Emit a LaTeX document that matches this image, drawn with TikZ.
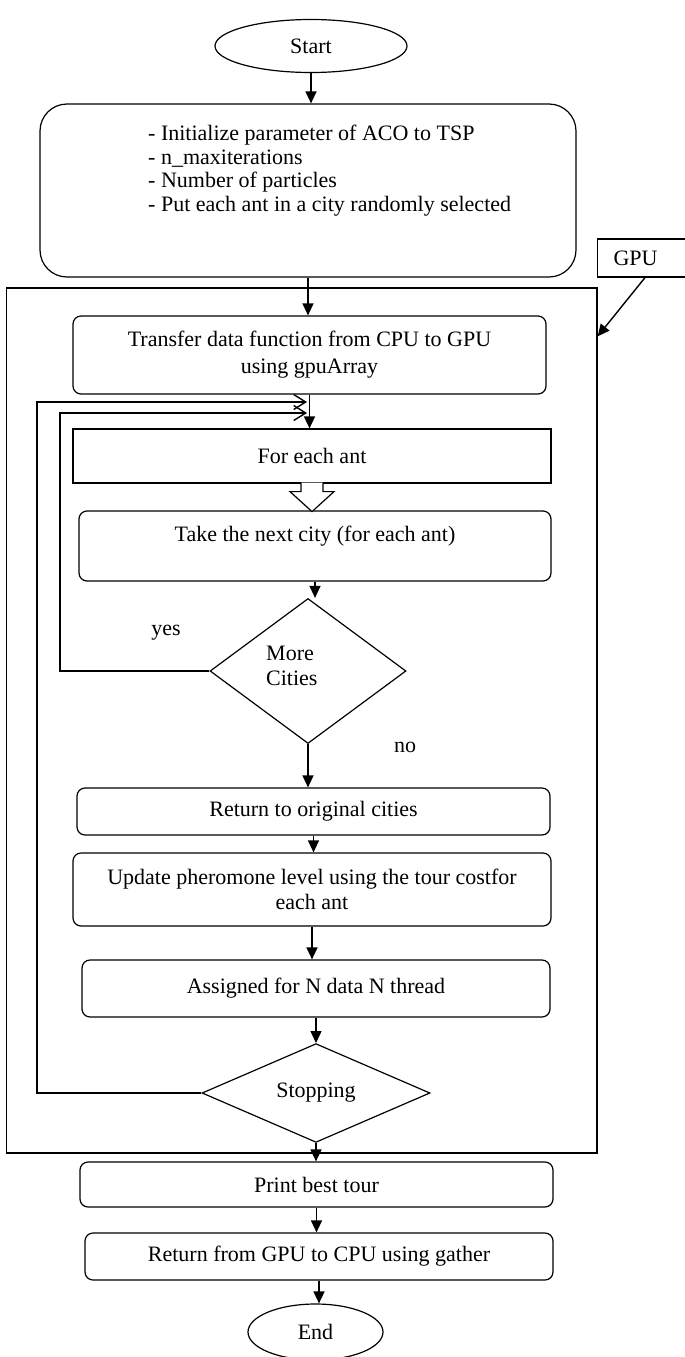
\documentclass[tikz,border=0pt]{standalone}
\usepackage{fontspec}
\setmainfont{Liberation Serif}
\usetikzlibrary{shapes.geometric,arrows.meta}

\tikzset{
  box/.style={draw, line width=1.2pt, rounded corners=8pt, inner sep=0pt, align=center},
  plainbox/.style={draw, line width=1.2pt, inner sep=0pt, align=center},
  terminal/.style={draw, ellipse, line width=1.2pt, inner sep=0pt},
  decision/.style={draw, diamond, line width=1.2pt, inner sep=0pt},
  flow/.style={line width=1.4pt, -{Triangle[length=12pt,width=11pt]}},
  back/.style={line width=1.2pt, -{Straight Barb[length=12pt,width=15pt,line width=1.4pt]}}
}

\begin{document}
\begin{tikzpicture}[x=1pt, y=-1pt, font=\fontsize{22}{25}\selectfont]
\useasboundingbox (0,0) rectangle (685,1357);

%Frame
\node[plainbox, minimum width=590.5pt, minimum height=865pt] (gpuarea) at (301.75,720.5) {};
\node[plainbox, anchor=west, minimum height=38pt, inner xsep=16pt, text width=70pt, align=left] (gpu) at (597,258) {GPU};

%Terminals
\node[terminal, minimum width=192pt, minimum height=53pt] (start) at (311,46) {Start};
\node[terminal, minimum width=135pt, minimum height=56pt] (end) at (315.5,1332) {End};

%Boxes
\node[box, rounded corners=27pt, minimum width=536pt, minimum height=173pt] (init) at (308,190.5) {};
\node[anchor=north west, align=left, inner sep=0pt, font=\fontsize{22}{23.5}\selectfont] (initlist) at (148,125)
  {- Initialize parameter of ACO to TSP\\- n\_maxiterations\\- Number of particles\\- Put each ant in a city randomly selected};
\node[box, minimum width=473pt, minimum height=78pt, font=\fontsize{22}{27}\selectfont] (transfer) at (309.5,355)
  {Transfer data function from CPU to GPU\\using gpuArray};
\node[plainbox, minimum width=478pt, minimum height=54pt] (foreach) at (312,456) {For each ant};
\node[box, minimum width=472pt, minimum height=70pt] (take) at (315,546) {Take the next city (for each ant)\\\mbox{}};
\node[box, minimum width=473pt, minimum height=47pt] (backcity) at (313.5,811.5) {Return to original cities};
\node[box, minimum width=478pt, minimum height=73pt] (update) at (312,889.5)
  {Update pheromone level using the tour costfor\\each ant};
\node[box, minimum width=468pt, minimum height=57pt] (assign) at (316,988.5) {Assigned for N data N thread};
\node[box, minimum width=473pt, minimum height=45pt] (print) at (316.5,1184.5) {Print best tour};
\node[box, minimum width=468pt, minimum height=47pt] (gather) at (319,1256.5) {Return from GPU to CPU using gather};

%Decisions
\node[decision, minimum width=196pt, minimum height=145pt] (more) at (308,671) {};
\node[align=left, anchor=west, inner sep=0pt] (moretext) at (266,666) {More\\Cities};
\node[decision, minimum width=228pt, minimum height=80pt] (stop) at (316,1093) {Stopping};
\node (yes) at (166,633) {yes};
\node (no) at (405,747) {no};

%Loop ends
\coordinate (stopturn) at (37,402);
\coordinate (stopin) at (307,402);
\coordinate (yesturn) at (60,413);
\coordinate (yesin) at (307,413);

%Arrows
\draw[flow] (start.south) -- (start.south |- init.north);
\draw[flow] (init.south) -- (init.south |- transfer.north);
\draw[flow] (transfer.south) -- (transfer.south |- foreach.north);
\draw[line width=1.2pt, fill=white] ([xshift=-11pt,yshift=1pt]foreach.south) -- ++(0,9) -- ++(-11,0)
  -- ([yshift=-28pt]foreach.south) -- ++(22,-20) -- ++(-11,0) -- ++(0,-9);
\draw[flow] (take.south) -- (take.south |- more.north);
\draw[flow] (more.south) -- (more.south |- backcity.north);
\draw[flow] (backcity.south) -- (backcity.south |- update.north);
\draw[flow] (update.south) -- (update.south |- assign.north);
\draw[flow] (assign.south) -- (assign.south |- stop.north);
\draw[flow] (stop.south) -- (stop.south |- print.north);
\draw[flow] (print.south) -- (print.south |- gather.north);
\draw[flow] (gather.south) -- (gather.south |- end.north);
\draw[flow] ([xshift=48pt]gpu.south west) -- ([yshift=-49pt]gpuarea.north east);

%Loops
\draw[back] (more.west) -| (yesturn) -- (yesin);
\draw[back] (stop.west) -| (stopturn) -- (stopin);

\end{tikzpicture}
\end{document}
